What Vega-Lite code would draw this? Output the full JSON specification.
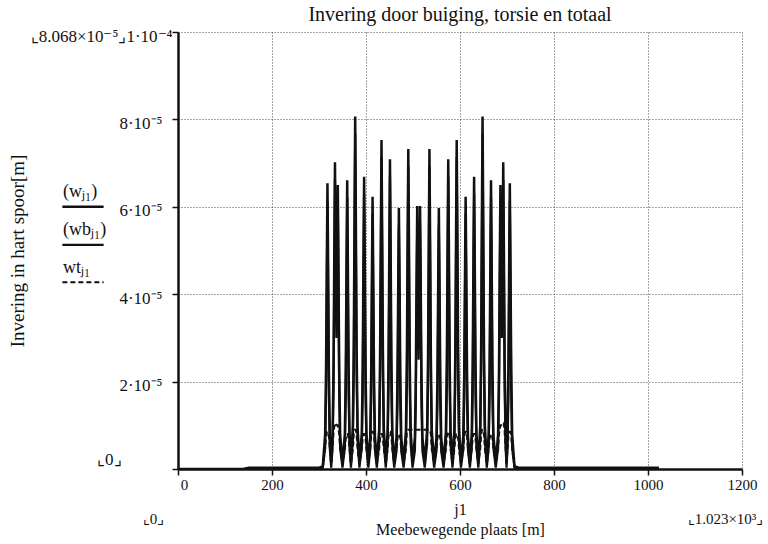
{
  "$schema": "https://vega.github.io/schema/vega-lite/v6.json",
  "autosize": {"type": "none"},
  "padding": {"left": 178, "top": 32, "right": 26, "bottom": 75},
  "width": 564,
  "height": 437,
  "background": "white",
  "title": {
    "text": "Invering door buiging, torsie en totaal",
    "font": "Liberation Serif",
    "fontSize": 20,
    "fontWeight": "normal",
    "color": "#111",
    "offset": 2
  },
  "config": {
    "font": "Liberation Serif",
    "view": {"stroke": null},
    "axis": {
      "labelFont": "Liberation Serif",
      "titleFont": "Liberation Serif",
      "labelColor": "#111",
      "titleColor": "#111",
      "titleFontWeight": "normal",
      "domainColor": "#111",
      "tickColor": "#111",
      "gridColor": "#222",
      "gridDash": [1, 2],
      "gridOpacity": 0.8,
      "gridWidth": 1
    }
  },
  "datasets": {
    "deflection": [
      {"j": 0, "w": 0, "wb": 0, "wt": 0},
      {"j": 140, "w": 0, "wb": 0, "wt": 0},
      {"j": 150, "w": 0.03e-5, "wb": 0.02e-5, "wt": 0.01e-5},
      {"j": 300, "w": 0.03e-5, "wb": 0.02e-5, "wt": 0.01e-5},
      {"j": 308, "w": 0.06e-5, "wb": 0.03e-5, "wt": 0.04e-5},
      {"j": 313, "w": 0.78e-5, "wb": 0.48e-5, "wt": 0.45e-5},
      {"j": 315, "w": 2.29e-5, "wb": 1.69e-5, "wt": 0.75e-5},
      {"j": 317, "w": 5.23e-5, "wb": 4.73e-5, "wt": 0.85e-5},
      {"j": 318, "w": 6.54e-5, "wb": 6.14e-5, "wt": 0.85e-5},
      {"j": 319, "w": 5.23e-5, "wb": 4.73e-5, "wt": 0.85e-5},
      {"j": 321, "w": 2.29e-5, "wb": 1.69e-5, "wt": 0.75e-5},
      {"j": 323, "w": 0.78e-5, "wb": 0.48e-5, "wt": 0.45e-5},
      {"j": 326, "w": 0.15e-5, "wb": 0.03e-5, "wt": 0.12e-5},
      {"j": 329, "w": 0.84e-5, "wb": 0.54e-5, "wt": 0.5e-5},
      {"j": 331, "w": 2.46e-5, "wb": 1.86e-5, "wt": 0.85e-5},
      {"j": 333, "w": 5.62e-5, "wb": 5.12e-5, "wt": 1.0e-5},
      {"j": 334, "w": 7.02e-5, "wb": 6.62e-5, "wt": 1.05e-5},
      {"j": 335, "w": 5.62e-5, "wb": 5.12e-5, "wt": 1.05e-5},
      {"j": 337, "w": 3.5e-5, "wb": 3.0e-5, "wt": 1.0e-5},
      {"j": 339, "w": 5.2e-5, "wb": 4.7e-5, "wt": 1.0e-5},
      {"j": 340, "w": 6.5e-5, "wb": 6.1e-5, "wt": 1.0e-5},
      {"j": 341, "w": 5.2e-5, "wb": 4.7e-5, "wt": 0.95e-5},
      {"j": 343, "w": 2.28e-5, "wb": 1.68e-5, "wt": 0.8e-5},
      {"j": 345, "w": 0.78e-5, "wb": 0.48e-5, "wt": 0.45e-5},
      {"j": 350, "w": 0.15e-5, "wb": 0.03e-5, "wt": 0.12e-5},
      {"j": 355, "w": 0.79e-5, "wb": 0.49e-5, "wt": 0.45e-5},
      {"j": 357, "w": 2.31e-5, "wb": 1.71e-5, "wt": 0.7e-5},
      {"j": 359, "w": 5.29e-5, "wb": 4.79e-5, "wt": 0.8e-5},
      {"j": 360, "w": 6.61e-5, "wb": 6.21e-5, "wt": 0.8e-5},
      {"j": 361, "w": 5.29e-5, "wb": 4.79e-5, "wt": 0.8e-5},
      {"j": 363, "w": 2.31e-5, "wb": 1.71e-5, "wt": 0.7e-5},
      {"j": 365, "w": 0.79e-5, "wb": 0.49e-5, "wt": 0.45e-5},
      {"j": 368, "w": 0.15e-5, "wb": 0.03e-5, "wt": 0.12e-5},
      {"j": 372, "w": 0.97e-5, "wb": 0.67e-5, "wt": 0.45e-5},
      {"j": 374, "w": 2.82e-5, "wb": 2.22e-5, "wt": 0.8e-5},
      {"j": 376, "w": 6.45e-5, "wb": 5.95e-5, "wt": 0.9e-5},
      {"j": 377, "w": 8.068e-5, "wb": 7.67e-5, "wt": 0.9e-5},
      {"j": 378, "w": 6.45e-5, "wb": 5.95e-5, "wt": 0.9e-5},
      {"j": 380, "w": 2.82e-5, "wb": 2.22e-5, "wt": 0.8e-5},
      {"j": 382, "w": 0.97e-5, "wb": 0.67e-5, "wt": 0.45e-5},
      {"j": 386, "w": 0.15e-5, "wb": 0.03e-5, "wt": 0.12e-5},
      {"j": 391, "w": 0.80e-5, "wb": 0.50e-5, "wt": 0.45e-5},
      {"j": 393, "w": 2.34e-5, "wb": 1.74e-5, "wt": 0.7e-5},
      {"j": 395, "w": 5.35e-5, "wb": 4.85e-5, "wt": 0.8e-5},
      {"j": 396, "w": 6.69e-5, "wb": 6.29e-5, "wt": 0.8e-5},
      {"j": 397, "w": 5.35e-5, "wb": 4.85e-5, "wt": 0.8e-5},
      {"j": 399, "w": 2.34e-5, "wb": 1.74e-5, "wt": 0.7e-5},
      {"j": 401, "w": 0.80e-5, "wb": 0.50e-5, "wt": 0.45e-5},
      {"j": 405, "w": 0.15e-5, "wb": 0.03e-5, "wt": 0.12e-5},
      {"j": 409, "w": 0.75e-5, "wb": 0.45e-5, "wt": 0.45e-5},
      {"j": 411, "w": 2.18e-5, "wb": 1.58e-5, "wt": 0.75e-5},
      {"j": 413, "w": 4.98e-5, "wb": 4.48e-5, "wt": 0.85e-5},
      {"j": 414, "w": 6.23e-5, "wb": 5.83e-5, "wt": 0.85e-5},
      {"j": 415, "w": 4.98e-5, "wb": 4.48e-5, "wt": 0.85e-5},
      {"j": 417, "w": 2.18e-5, "wb": 1.58e-5, "wt": 0.75e-5},
      {"j": 419, "w": 0.75e-5, "wb": 0.45e-5, "wt": 0.45e-5},
      {"j": 423, "w": 0.15e-5, "wb": 0.03e-5, "wt": 0.12e-5},
      {"j": 428, "w": 0.90e-5, "wb": 0.60e-5, "wt": 0.45e-5},
      {"j": 430, "w": 2.64e-5, "wb": 2.04e-5, "wt": 0.7e-5},
      {"j": 432, "w": 6.02e-5, "wb": 5.52e-5, "wt": 0.8e-5},
      {"j": 433, "w": 7.53e-5, "wb": 7.13e-5, "wt": 0.8e-5},
      {"j": 434, "w": 6.02e-5, "wb": 5.52e-5, "wt": 0.8e-5},
      {"j": 436, "w": 2.64e-5, "wb": 2.04e-5, "wt": 0.7e-5},
      {"j": 438, "w": 0.90e-5, "wb": 0.60e-5, "wt": 0.45e-5},
      {"j": 442, "w": 0.15e-5, "wb": 0.03e-5, "wt": 0.12e-5},
      {"j": 446, "w": 0.85e-5, "wb": 0.55e-5, "wt": 0.45e-5},
      {"j": 448, "w": 2.48e-5, "wb": 1.88e-5, "wt": 0.75e-5},
      {"j": 450, "w": 5.67e-5, "wb": 5.17e-5, "wt": 0.85e-5},
      {"j": 451, "w": 7.09e-5, "wb": 6.69e-5, "wt": 0.85e-5},
      {"j": 452, "w": 5.67e-5, "wb": 5.17e-5, "wt": 0.85e-5},
      {"j": 454, "w": 2.48e-5, "wb": 1.88e-5, "wt": 0.75e-5},
      {"j": 456, "w": 0.85e-5, "wb": 0.55e-5, "wt": 0.45e-5},
      {"j": 460, "w": 0.15e-5, "wb": 0.03e-5, "wt": 0.12e-5},
      {"j": 465, "w": 0.72e-5, "wb": 0.42e-5, "wt": 0.45e-5},
      {"j": 467, "w": 2.09e-5, "wb": 1.49e-5, "wt": 0.7e-5},
      {"j": 469, "w": 4.78e-5, "wb": 4.28e-5, "wt": 0.8e-5},
      {"j": 470, "w": 5.97e-5, "wb": 5.57e-5, "wt": 0.8e-5},
      {"j": 471, "w": 4.78e-5, "wb": 4.28e-5, "wt": 0.8e-5},
      {"j": 473, "w": 2.09e-5, "wb": 1.49e-5, "wt": 0.7e-5},
      {"j": 475, "w": 0.72e-5, "wb": 0.42e-5, "wt": 0.45e-5},
      {"j": 480, "w": 0.15e-5, "wb": 0.03e-5, "wt": 0.12e-5},
      {"j": 485, "w": 0.88e-5, "wb": 0.58e-5, "wt": 0.45e-5},
      {"j": 487, "w": 2.56e-5, "wb": 1.96e-5, "wt": 0.88e-5},
      {"j": 489, "w": 5.86e-5, "wb": 5.36e-5, "wt": 0.9e-5},
      {"j": 490, "w": 7.32e-5, "wb": 6.92e-5, "wt": 0.9e-5},
      {"j": 491, "w": 5.86e-5, "wb": 5.36e-5, "wt": 0.9e-5},
      {"j": 493, "w": 2.56e-5, "wb": 1.96e-5, "wt": 0.9e-5},
      {"j": 495, "w": 0.88e-5, "wb": 0.58e-5, "wt": 0.9e-5},
      {"j": 499, "w": 0.15e-5, "wb": 0.03e-5, "wt": 0.9e-5},
      {"j": 504, "w": 0.72e-5, "wb": 0.42e-5, "wt": 0.9e-5},
      {"j": 506, "w": 2.11e-5, "wb": 1.51e-5, "wt": 0.9e-5},
      {"j": 508, "w": 4.82e-5, "wb": 4.32e-5, "wt": 0.9e-5},
      {"j": 509, "w": 6.02e-5, "wb": 5.62e-5, "wt": 0.9e-5},
      {"j": 510, "w": 4.82e-5, "wb": 4.32e-5, "wt": 0.9e-5},
      {"j": 512, "w": 3.0e-5, "wb": 2.5e-5, "wt": 0.9e-5},
      {"j": 514, "w": 4.82e-5, "wb": 4.32e-5, "wt": 0.9e-5},
      {"j": 515, "w": 6.02e-5, "wb": 5.62e-5, "wt": 0.9e-5},
      {"j": 516, "w": 4.82e-5, "wb": 4.32e-5, "wt": 0.9e-5},
      {"j": 518, "w": 2.11e-5, "wb": 1.51e-5, "wt": 0.9e-5},
      {"j": 520, "w": 0.72e-5, "wb": 0.42e-5, "wt": 0.9e-5},
      {"j": 525, "w": 0.15e-5, "wb": 0.03e-5, "wt": 0.9e-5},
      {"j": 530, "w": 0.88e-5, "wb": 0.58e-5, "wt": 0.9e-5},
      {"j": 532, "w": 2.56e-5, "wb": 1.96e-5, "wt": 0.9e-5},
      {"j": 534, "w": 5.86e-5, "wb": 5.36e-5, "wt": 0.9e-5},
      {"j": 535, "w": 7.32e-5, "wb": 6.92e-5, "wt": 0.9e-5},
      {"j": 536, "w": 5.86e-5, "wb": 5.36e-5, "wt": 0.88e-5},
      {"j": 538, "w": 2.56e-5, "wb": 1.96e-5, "wt": 0.8e-5},
      {"j": 540, "w": 0.88e-5, "wb": 0.58e-5, "wt": 0.45e-5},
      {"j": 545, "w": 0.15e-5, "wb": 0.03e-5, "wt": 0.12e-5},
      {"j": 550, "w": 0.72e-5, "wb": 0.42e-5, "wt": 0.45e-5},
      {"j": 552, "w": 2.09e-5, "wb": 1.49e-5, "wt": 0.7e-5},
      {"j": 554, "w": 4.78e-5, "wb": 4.28e-5, "wt": 0.8e-5},
      {"j": 555, "w": 5.97e-5, "wb": 5.57e-5, "wt": 0.8e-5},
      {"j": 556, "w": 4.78e-5, "wb": 4.28e-5, "wt": 0.8e-5},
      {"j": 558, "w": 2.09e-5, "wb": 1.49e-5, "wt": 0.7e-5},
      {"j": 560, "w": 0.72e-5, "wb": 0.42e-5, "wt": 0.45e-5},
      {"j": 565, "w": 0.15e-5, "wb": 0.03e-5, "wt": 0.12e-5},
      {"j": 570, "w": 0.85e-5, "wb": 0.55e-5, "wt": 0.45e-5},
      {"j": 572, "w": 2.48e-5, "wb": 1.88e-5, "wt": 0.75e-5},
      {"j": 574, "w": 5.67e-5, "wb": 5.17e-5, "wt": 0.85e-5},
      {"j": 575, "w": 7.09e-5, "wb": 6.69e-5, "wt": 0.85e-5},
      {"j": 576, "w": 5.67e-5, "wb": 5.17e-5, "wt": 0.85e-5},
      {"j": 578, "w": 2.48e-5, "wb": 1.88e-5, "wt": 0.75e-5},
      {"j": 580, "w": 0.85e-5, "wb": 0.55e-5, "wt": 0.45e-5},
      {"j": 584, "w": 0.15e-5, "wb": 0.03e-5, "wt": 0.12e-5},
      {"j": 588, "w": 0.90e-5, "wb": 0.60e-5, "wt": 0.45e-5},
      {"j": 590, "w": 2.64e-5, "wb": 2.04e-5, "wt": 0.7e-5},
      {"j": 592, "w": 6.02e-5, "wb": 5.52e-5, "wt": 0.8e-5},
      {"j": 593, "w": 7.53e-5, "wb": 7.13e-5, "wt": 0.8e-5},
      {"j": 594, "w": 6.02e-5, "wb": 5.52e-5, "wt": 0.8e-5},
      {"j": 596, "w": 2.64e-5, "wb": 2.04e-5, "wt": 0.7e-5},
      {"j": 598, "w": 0.90e-5, "wb": 0.60e-5, "wt": 0.45e-5},
      {"j": 602, "w": 0.15e-5, "wb": 0.03e-5, "wt": 0.12e-5},
      {"j": 607, "w": 0.75e-5, "wb": 0.45e-5, "wt": 0.45e-5},
      {"j": 609, "w": 2.18e-5, "wb": 1.58e-5, "wt": 0.75e-5},
      {"j": 611, "w": 4.98e-5, "wb": 4.48e-5, "wt": 0.85e-5},
      {"j": 612, "w": 6.23e-5, "wb": 5.83e-5, "wt": 0.85e-5},
      {"j": 613, "w": 4.98e-5, "wb": 4.48e-5, "wt": 0.85e-5},
      {"j": 615, "w": 2.18e-5, "wb": 1.58e-5, "wt": 0.75e-5},
      {"j": 617, "w": 0.75e-5, "wb": 0.45e-5, "wt": 0.45e-5},
      {"j": 621, "w": 0.15e-5, "wb": 0.03e-5, "wt": 0.12e-5},
      {"j": 625, "w": 0.80e-5, "wb": 0.50e-5, "wt": 0.45e-5},
      {"j": 627, "w": 2.34e-5, "wb": 1.74e-5, "wt": 0.7e-5},
      {"j": 629, "w": 5.35e-5, "wb": 4.85e-5, "wt": 0.8e-5},
      {"j": 630, "w": 6.69e-5, "wb": 6.29e-5, "wt": 0.8e-5},
      {"j": 631, "w": 5.35e-5, "wb": 4.85e-5, "wt": 0.8e-5},
      {"j": 633, "w": 2.34e-5, "wb": 1.74e-5, "wt": 0.7e-5},
      {"j": 635, "w": 0.80e-5, "wb": 0.50e-5, "wt": 0.45e-5},
      {"j": 639, "w": 0.15e-5, "wb": 0.03e-5, "wt": 0.12e-5},
      {"j": 643, "w": 0.97e-5, "wb": 0.67e-5, "wt": 0.45e-5},
      {"j": 645, "w": 2.82e-5, "wb": 2.22e-5, "wt": 0.8e-5},
      {"j": 647, "w": 6.45e-5, "wb": 5.95e-5, "wt": 0.9e-5},
      {"j": 648, "w": 8.068e-5, "wb": 7.67e-5, "wt": 0.9e-5},
      {"j": 649, "w": 6.45e-5, "wb": 5.95e-5, "wt": 0.9e-5},
      {"j": 651, "w": 2.82e-5, "wb": 2.22e-5, "wt": 0.8e-5},
      {"j": 653, "w": 0.97e-5, "wb": 0.67e-5, "wt": 0.45e-5},
      {"j": 657, "w": 0.15e-5, "wb": 0.03e-5, "wt": 0.12e-5},
      {"j": 661, "w": 0.79e-5, "wb": 0.49e-5, "wt": 0.45e-5},
      {"j": 663, "w": 2.31e-5, "wb": 1.71e-5, "wt": 0.7e-5},
      {"j": 665, "w": 5.29e-5, "wb": 4.79e-5, "wt": 0.8e-5},
      {"j": 666, "w": 6.61e-5, "wb": 6.21e-5, "wt": 0.8e-5},
      {"j": 667, "w": 5.29e-5, "wb": 4.79e-5, "wt": 0.8e-5},
      {"j": 669, "w": 2.31e-5, "wb": 1.71e-5, "wt": 0.7e-5},
      {"j": 671, "w": 0.79e-5, "wb": 0.49e-5, "wt": 0.45e-5},
      {"j": 676, "w": 0.15e-5, "wb": 0.03e-5, "wt": 0.12e-5},
      {"j": 681, "w": 0.78e-5, "wb": 0.48e-5, "wt": 0.45e-5},
      {"j": 683, "w": 2.28e-5, "wb": 1.68e-5, "wt": 0.8e-5},
      {"j": 685, "w": 5.2e-5, "wb": 4.7e-5, "wt": 0.95e-5},
      {"j": 686, "w": 6.5e-5, "wb": 6.1e-5, "wt": 1.0e-5},
      {"j": 687, "w": 5.2e-5, "wb": 4.7e-5, "wt": 1.0e-5},
      {"j": 689, "w": 3.5e-5, "wb": 3.0e-5, "wt": 1.0e-5},
      {"j": 691, "w": 5.62e-5, "wb": 5.12e-5, "wt": 1.0e-5},
      {"j": 692, "w": 7.02e-5, "wb": 6.62e-5, "wt": 1.05e-5},
      {"j": 693, "w": 5.62e-5, "wb": 5.12e-5, "wt": 1.05e-5},
      {"j": 695, "w": 2.46e-5, "wb": 1.86e-5, "wt": 0.85e-5},
      {"j": 697, "w": 0.84e-5, "wb": 0.54e-5, "wt": 0.5e-5},
      {"j": 699, "w": 0.15e-5, "wb": 0.03e-5, "wt": 0.12e-5},
      {"j": 701, "w": 0.78e-5, "wb": 0.48e-5, "wt": 0.45e-5},
      {"j": 703, "w": 2.29e-5, "wb": 1.69e-5, "wt": 0.75e-5},
      {"j": 705, "w": 5.23e-5, "wb": 4.73e-5, "wt": 0.85e-5},
      {"j": 706, "w": 6.54e-5, "wb": 6.14e-5, "wt": 0.85e-5},
      {"j": 707, "w": 5.23e-5, "wb": 4.73e-5, "wt": 0.85e-5},
      {"j": 709, "w": 2.29e-5, "wb": 1.69e-5, "wt": 0.75e-5},
      {"j": 711, "w": 0.78e-5, "wb": 0.48e-5, "wt": 0.45e-5},
      {"j": 716, "w": 0.06e-5, "wb": 0.03e-5, "wt": 0.04e-5},
      {"j": 725, "w": 0.03e-5, "wb": 0.02e-5, "wt": 0.01e-5},
      {"j": 1023, "w": 0.03e-5, "wb": 0.02e-5, "wt": 0.01e-5}
    ],
    "limits": [
      {"j": 0},
      {"j": 1200}
    ]
  },
  "layer": [
    {
      "data": {"name": "deflection"},
      "transform": [{"fold": ["w", "wb", "wt"], "as": ["series", "value"]}],
      "mark": {"type": "line", "color": "#111", "interpolate": "linear", "clip": true},
      "encoding": {
        "x": {
          "field": "j",
          "type": "quantitative",
          "scale": {"domain": [0, 1200], "nice": false, "zero": false},
          "axis": {
            "orient": "bottom",
            "values": [0, 200, 400, 600, 800, 1000, 1200],
            "format": "d",
            "labelFlush": false,
            "labelFontSize": 15,
            "labelPadding": 2,
            "labelOffset": {"condition": {"test": "datum.value == 0", "value": 6}, "value": 0},
            "tickSize": 6,
            "tickWidth": 1.5,
            "domainWidth": 2.5,
            "grid": true,
            "title": ["j1", "Meebewegende plaats [m]"],
            "titleFontSize": 16,
            "titleLineHeight": 20,
            "titlePadding": 9
          }
        },
        "y": {
          "field": "value",
          "type": "quantitative",
          "scale": {"domain": [0, 0.0001], "nice": false, "zero": true},
          "axis": {
            "values": [0, 0.00002, 0.00004, 0.00006, 0.00008, 0.0001],
            "labelExpr": "datum.value == 0 ? '⌞0⌟' : (datum.value > 0.00009 ? '⌞8.068×10⁻⁵⌟1·10⁻⁴' : round(datum.value * 100000) + '·10⁻⁵')",
            "labelFlush": false,
            "labelFontSize": 17,
            "labelBaseline": "middle",
            "labelPadding": {"condition": [{"test": "datum.value == 0", "value": 51}, {"test": "datum.value > 0.00009", "value": 0}], "value": 10},
            "labelOffset": {"condition": {"test": "datum.value == 0", "value": -10}, "value": 4},
            "tickSize": 6,
            "tickWidth": 1.5,
            "domainWidth": 2.5,
            "grid": true,
            "title": "Invering in hart spoor[m]",
            "titleFontSize": 19,
            "titleX": -151
          }
        },
        "strokeDash": {
          "field": "series",
          "type": "nominal",
          "scale": {"domain": ["w", "wb", "wt"], "range": [[1, 0], [1, 0], [5, 3]]},
          "legend": {
            "orient": "none",
            "legendX": -113,
            "legendY": 142,
            "title": null,
            "padding": 0,
            "rowPadding": -3,
            "symbolType": "M-1.25,0.9L1.25,0.9",
            "symbolSize": 1089,
            "symbolStrokeWidth": 2,
            "symbolStrokeColor": "#111",
            "labelOffset": -38,
            "labelFont": "Liberation Serif",
            "labelFontSize": 18,
            "labelColor": "#111",
            "labelExpr": "datum.label == 'w' ? '(wⱼ₁)' : (datum.label == 'wb' ? '(wbⱼ₁)' : 'wtⱼ₁')"
          }
        },
        "strokeWidth": {
          "field": "series",
          "type": "nominal",
          "scale": {"domain": ["w", "wb", "wt"], "range": [2.5, 2, 1.3]},
          "legend": null
        }
      }
    },
    {
      "data": {"name": "limits"},
      "mark": {"type": "rule", "opacity": 0},
      "encoding": {
        "x": {
          "field": "j",
          "type": "quantitative",
          "scale": {"domain": [0, 1200], "nice": false, "zero": false},
          "axis": {
            "orient": "bottom",
            "values": [0, 1200],
            "labelExpr": "datum.value == 0 ? '⌞0⌟' : '⌞1.023×10³⌟'",
            "labelFlush": false,
            "labelFontSize": 15,
            "labelPadding": 42,
            "labelOffset": {"condition": {"test": "datum.value == 0", "value": -25}, "value": -17},
            "ticks": false,
            "domain": false,
            "grid": false,
            "title": null
          }
        }
      }
    }
  ],
  "resolve": {"scale": {"x": "independent"}}
}
